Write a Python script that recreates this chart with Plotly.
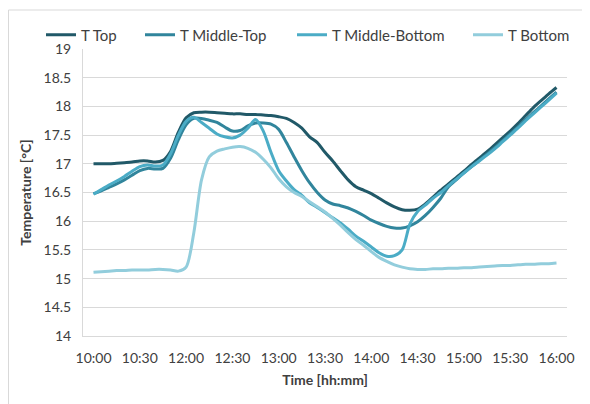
import plotly.graph_objects as go

# ---- data -------------------------------------------------------------
times = ["10:00", "10:05", "10:10", "10:15", "10:20", "10:25", "10:30",
         "10:45", "11:00", "11:15", "11:30", "11:45", "12:00"]
for _h in range(12, 17):
    for _m in range(0, 60, 5):
        if (_h, _m) <= (12, 0) or (_h, _m) > (16, 0):
            continue
        times.append(f"{_h}:{_m:02d}")

tick_labels = ["10:00", "10:30", "12:00", "12:30", "13:00", "13:30",
               "14:00", "14:30", "15:00", "15:30", "16:00"]

t_top = [17.00, 17.00, 17.00, 17.01, 17.02, 17.03, 17.05, 17.05, 17.03, 17.06,
         17.22, 17.55, 17.80, 17.89, 17.90, 17.90, 17.89, 17.88, 17.87, 17.87,
         17.86, 17.86, 17.85, 17.84, 17.82, 17.79, 17.72, 17.62, 17.47, 17.37,
         17.20, 17.05, 16.88, 16.72, 16.60, 16.54, 16.48, 16.40, 16.32, 16.25,
         16.20, 16.19, 16.21, 16.30, 16.42, 16.54, 16.65, 16.76, 16.87, 16.99,
         17.10, 17.21, 17.33, 17.45, 17.57, 17.70, 17.84, 17.98, 18.10, 18.22,
         18.33]

t_middle_top = [16.48, 16.53, 16.59, 16.65, 16.72, 16.80, 16.88, 16.92, 16.91, 16.92,
                17.10, 17.42, 17.68, 17.79, 17.79, 17.76, 17.72, 17.64, 17.57, 17.58,
                17.66, 17.71, 17.71, 17.69, 17.60, 17.37, 17.12, 16.88, 16.67, 16.50,
                16.37, 16.30, 16.27, 16.23, 16.17, 16.10, 16.02, 15.96, 15.91, 15.88,
                15.88, 15.92, 15.99, 16.10, 16.24, 16.40, 16.60, 16.72, 16.84, 16.95,
                17.06, 17.17, 17.28, 17.40, 17.52, 17.64, 17.77, 17.89, 18.01, 18.13,
                18.25]

t_middle_bottom = [16.47, 16.55, 16.63, 16.70, 16.78, 16.87, 16.95, 16.98, 16.96, 16.98,
                   17.18, 17.50, 17.74, 17.81, 17.72, 17.62, 17.52, 17.47, 17.45, 17.50,
                   17.62, 17.77, 17.57, 17.20, 16.88, 16.70, 16.55, 16.45, 16.32, 16.24,
                   16.15, 16.06, 15.97, 15.86, 15.74, 15.65, 15.55, 15.45, 15.39, 15.40,
                   15.50, 15.95, 16.17, 16.28, 16.40, 16.50, 16.62, 16.73, 16.84, 16.95,
                   17.05, 17.15, 17.26, 17.38, 17.50, 17.62, 17.75, 17.87, 17.99, 18.11,
                   18.23]

t_bottom = [15.11, 15.12, 15.13, 15.14, 15.14, 15.15, 15.15, 15.15, 15.16, 15.16,
            15.15, 15.13, 15.20, 15.80, 16.72, 17.12, 17.22, 17.26, 17.29, 17.30,
            17.27, 17.20, 17.08, 16.93, 16.74, 16.60, 16.50, 16.43, 16.34, 16.25,
            16.16, 16.05, 15.93, 15.80, 15.68, 15.58, 15.47, 15.37, 15.30, 15.24,
            15.20, 15.17, 15.16, 15.16, 15.17, 15.17, 15.18, 15.18, 15.19, 15.19,
            15.20, 15.21, 15.22, 15.23, 15.23, 15.24, 15.25, 15.25, 15.26, 15.26,
            15.27]

series_names = ["T Top", "T Middle-Top", "T Middle-Bottom", "T Bottom"]
series_values = [t_top, t_middle_top, t_middle_bottom, t_bottom]
series_colors = ["#215968", "#31859C", "#4BACC6", "#92CDDC"]

# ---- layout geometry (page pixels; the page body adds an 8px margin) ----
PAGE_W, PAGE_H = 590, 404
BODY = 8
W, H = PAGE_W - BODY, PAGE_H - BODY
PL, PR, PT, PB = 83, 567, 49, 336          # plot area in page pixels
pw, ph = PR - PL, PB - PT


def px_x(x):
    return (x - PL) / pw


def px_y(y):
    return (PB - y) / ph


FONT = "Lato, 'Open Sans', sans-serif"
TXT = "#404040"

fig = go.Figure()
legend_keys = ["legend2", "legend3", "legend4", "legend5"]
legend_starts = [46, 145, 297, 473]
for name, vals, col, lk in zip(series_names, series_values, series_colors, legend_keys):
    fig.add_trace(go.Scatter(
        x=times, y=vals, mode="lines", name=name, legend=lk,
        line=dict(color=col, width=3, shape="spline", smoothing=0.8),
        hoverinfo="skip",
    ))

n = len(times)
step_px = (pw - 21) / (n - 1)
pad = 10.5 / step_px

layout_legends = {}
for lk, xs in zip(legend_keys, legend_starts):
    layout_legends[lk] = dict(
        x=px_x(xs - 5), y=px_y(35), xanchor="left", yanchor="middle",
        orientation="h", bgcolor="rgba(0,0,0,0)", borderwidth=0,
        font=dict(family=FONT, size=15, color=TXT),
        itemwidth=30,
    )

fig.update_layout(
    width=W, height=H,
    margin=dict(l=PL - BODY, r=PAGE_W - PR, t=PT - BODY, b=PAGE_H - PB, pad=0, autoexpand=False),
    paper_bgcolor="white", plot_bgcolor="white",
    font=dict(family=FONT, size=14, color=TXT),
    **layout_legends,
    xaxis=dict(
        type="category", categoryorder="array", categoryarray=times,
        range=[-pad, n - 1 + pad],
        tickmode="array", tickvals=tick_labels, ticktext=tick_labels,
        showgrid=False, showline=True, linecolor="#D9D9D9", linewidth=1,
        ticks="", tickfont=dict(family=FONT, size=14, color=TXT),
        ticklabelstandoff=9, automargin=False,
        title=dict(text="<b>Time [hh:mm]</b>", font=dict(family=FONT, size=14, color=TXT), standoff=10),
        zeroline=False, fixedrange=True,
    ),
    yaxis=dict(
        range=[14, 19], dtick=0.5, tick0=14,
        showgrid=True, gridcolor="#D9D9D9", gridwidth=1,
        showline=True, linecolor="#D9D9D9", linewidth=1,
        ticks="", tickfont=dict(family=FONT, size=14, color=TXT),
        ticklabelstandoff=8, automargin=False,
        title=dict(text="<b>Temperature [°C]</b>", font=dict(family=FONT, size=14, color=TXT), standoff=8),
        zeroline=False, fixedrange=True,
    ),
    shapes=[
        dict(type="line", xref="paper", yref="paper",
             x0=px_x(BODY + 0.5), x1=px_x(PAGE_W + 5), y0=px_y(10), y1=px_y(10),
             line=dict(color="#D9D9D9", width=1)),
        dict(type="line", xref="paper", yref="paper",
             x0=px_x(BODY + 0.5), x1=px_x(BODY + 0.5), y0=px_y(10), y1=px_y(PAGE_H + 5),
             line=dict(color="#D9D9D9", width=1)),
    ],
)

fig.write_html("out.html")
